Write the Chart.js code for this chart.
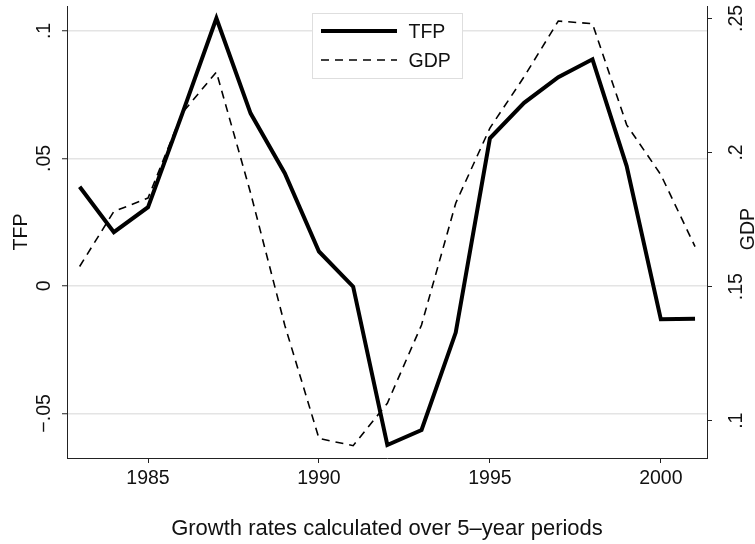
<!DOCTYPE html>
<html lang="en">
<head>
    <meta charset="UTF-8">
    <title>TFP and GDP growth</title>
    <script src="https://cdn.jsdelivr.net/npm/chart.js"></script>
    <style>
        body {
            margin: 0;
            background: #fff;
        }
        .wrap {
            width: 755px;
            height: 544px;
        }
    </style>
</head>
<body>
    <div class="wrap">
        <canvas id="myChart"></canvas>
    </div>

    <script>
// data
const years = [1983, 1984, 1985, 1986, 1987, 1988, 1989, 1990, 1991, 1992,
               1993, 1994, 1995, 1996, 1997, 1998, 1999, 2000, 2001];
const tfp = [0.0389, 0.0211, 0.0309, 0.0675, 0.1050, 0.0677, 0.0442, 0.0135, -0.0003, -0.0624,
             -0.0565, -0.0183, 0.0579, 0.0718, 0.0819, 0.0889, 0.0470, -0.0131, -0.0129];
const gdp = [0.1575, 0.1780, 0.1830, 0.2147, 0.2300, 0.1849, 0.1356, 0.0934, 0.0907, 0.1065,
             0.1357, 0.1811, 0.2091, 0.2282, 0.2490, 0.2480, 0.2103, 0.1917, 0.1649];

const xTicks = [1985, 1990, 1995, 2000];
const tfpTicks = [-0.05, 0, 0.05, 0.1];
const tfpTickLabels = ['\u2212.05', '0', '.05', '.1'];
const gdpTicks = [0.1, 0.15, 0.2, 0.25];
const gdpTickLabels = ['.1', '.15', '.2', '.25'];

const FONT = '"Liberation Sans", Arial, Helvetica, sans-serif';
const AXIS = '#222';

// rotated y labels, y titles and the inside legend
const stataBits = {
    id: 'stataBits',
    afterDraw(chart) {
        const ctx = chart.ctx;
        const area = chart.chartArea;
        const yL = chart.scales.y;
        const yR = chart.scales.y2;
        const midY = (area.top + area.bottom) / 2;

        function vtext(str, x, y, size) {
            ctx.save();
            ctx.translate(x, y);
            ctx.rotate(-Math.PI / 2);
            ctx.font = size + 'px ' + FONT;
            ctx.fillStyle = '#111';
            ctx.textAlign = 'center';
            ctx.textBaseline = 'alphabetic';
            ctx.fillText(str, 0, 0);
            ctx.restore();
        }

        tfpTicks.forEach((v, i) => vtext(tfpTickLabels[i], area.left - 17, yL.getPixelForValue(v), 19.5));
        gdpTicks.forEach((v, i) => vtext(gdpTickLabels[i], area.right + 35, yR.getPixelForValue(v), 19.5));
        vtext('TFP', 26.7, midY, 19.5);
        vtext('GDP', 753.5, midY - 3, 19.5);

        // legend box
        const cx = (area.left + area.right) / 2;
        const bx = Math.round(cx - 75) + 0.5, by = 13.5, bw = 150, bh = 65;
        ctx.save();
        ctx.fillStyle = '#fff';
        ctx.fillRect(bx, by, bw, bh);
        ctx.strokeStyle = '#dedede';
        ctx.lineWidth = 1;
        ctx.strokeRect(bx, by, bw, bh);
        chart.data.datasets.forEach((ds, i) => {
            const ly = 31 + i * 29;
            ctx.beginPath();
            ctx.lineWidth = ds.borderWidth;
            ctx.strokeStyle = ds.borderColor;
            ctx.setLineDash(ds.borderDash || []);
            ctx.moveTo(bx + 8.5, ly);
            ctx.lineTo(bx + 84.5, ly);
            ctx.stroke();
            ctx.setLineDash([]);
            ctx.font = '19.5px ' + FONT;
            ctx.fillStyle = '#111';
            ctx.textAlign = 'left';
            ctx.textBaseline = 'alphabetic';
            ctx.fillText(ds.label, bx + 96, ly + 7.3);
        });
        ctx.restore();
    }
};

const ctx = document.getElementById('myChart');
new Chart(ctx, {
    type: 'line',
    data: {
        labels: years,
        datasets: [{
            label: 'TFP',
            data: years.map((y, i) => ({ x: y, y: tfp[i] })),
            yAxisID: 'y',
            borderColor: '#000',
            borderWidth: 4,
            borderJoinStyle: 'miter',
            pointRadius: 0,
            tension: 0
        }, {
            label: 'GDP',
            data: years.map((y, i) => ({ x: y, y: gdp[i] })),
            yAxisID: 'y2',
            borderColor: '#000',
            borderWidth: 1.6,
            borderDash: [8, 6],
            borderJoinStyle: 'miter',
            pointRadius: 0,
            tension: 0
        }]
    },
    options: {
        responsive: true,
        maintainAspectRatio: false,
        animation: false,
        layout: { padding: { top: 6, left: 0, right: 0, bottom: 0 } },
        plugins: {
            legend: { display: false },
            tooltip: { enabled: false }
        },
        scales: {
            x: {
                type: 'linear',
                min: 1982.63,
                max: 2001.35,
                afterBuildTicks: s => { s.ticks = xTicks.map(v => ({ value: v })); },
                afterFit: s => { s.height = 86; },
                grid: { drawOnChartArea: false, tickLength: 5, tickColor: AXIS },
                border: { color: AXIS, width: 1 },
                ticks: {
                    color: '#111',
                    font: { family: FONT, size: 19.5 },
                    padding: 4,
                    maxRotation: 0,
                    callback: v => String(v)
                },
                title: {
                    display: true,
                    text: 'Growth rates calculated over 5\u2013year periods',
                    color: '#111',
                    font: { family: FONT, size: 22 },
                    padding: { top: 0, bottom: 2 }
                }
            },
            y: {
                position: 'left',
                min: -0.0675,
                max: 0.1098,
                afterBuildTicks: s => { s.ticks = tfpTicks.map(v => ({ value: v })); },
                afterFit: s => { s.width = 67; },
                grid: { color: '#e4e4e4', lineWidth: 1.5, tickLength: 5, tickColor: AXIS, tickWidth: 1 },
                border: { color: AXIS, width: 1 },
                ticks: { display: false }
            },
            y2: {
                position: 'right',
                min: 0.0861,
                max: 0.2546,
                afterBuildTicks: s => { s.ticks = gdpTicks.map(v => ({ value: v })); },
                afterFit: s => { s.width = 48; },
                grid: { drawOnChartArea: false, tickLength: 5, tickColor: AXIS },
                border: { color: AXIS, width: 1 },
                ticks: { display: false }
            }
        }
    },
    plugins: [stataBits]
});
    </script>
</body>
</html>
